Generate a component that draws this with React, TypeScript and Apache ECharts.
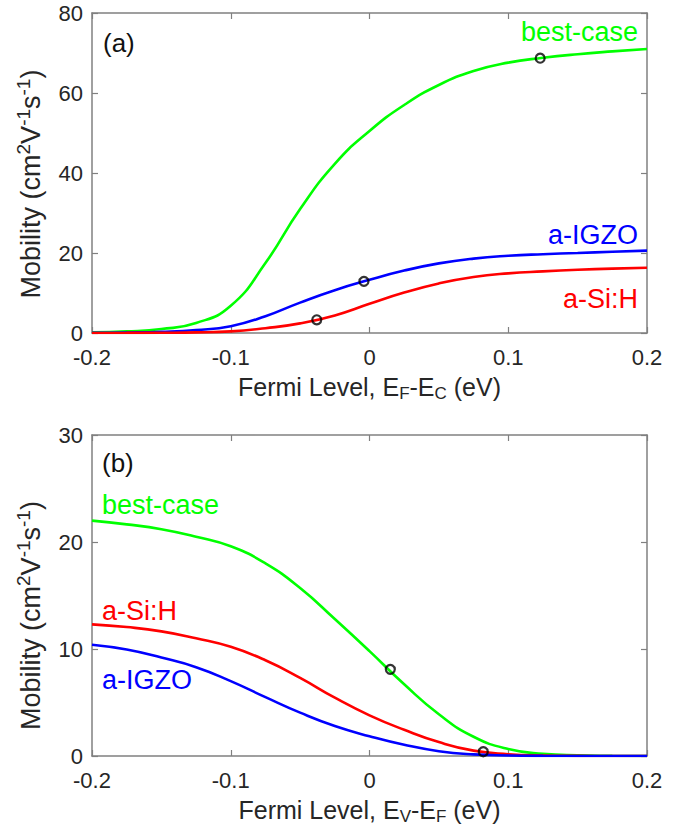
import React, { useEffect, useRef } from "react";
import * as echarts from "echarts";

// Shared Fermi-level sample positions (eV)
const xValues = [-0.2, -0.175, -0.15, -0.125, -0.1, -0.075, -0.05, -0.025, 0, 0.025, 0.05, 0.075, 0.1, 0.125, 0.15, 0.175, 0.2];

// Panel (a): electron mobility vs EF-EC
const aBestCase = [0.15, 0.4, 1.0, 2.5, 6.8, 17.5, 31.0, 42.3, 50.5, 57.0, 62.0, 65.5, 67.6, 68.8, 69.7, 70.4, 71.0];
const aIGZO = [0.05, 0.12, 0.3, 0.75, 1.7, 4.2, 7.6, 10.7, 13.3, 15.6, 17.4, 18.6, 19.3, 19.7, 20.0, 20.3, 20.6];
const aSiH = [0.0, 0.02, 0.06, 0.15, 0.4, 1.2, 2.4, 4.4, 7.3, 10.1, 12.4, 14.0, 14.9, 15.4, 15.8, 16.1, 16.3];
const aMarkers = [[-0.038, 3.3], [-0.004, 12.9], [0.123, 68.7]];

// Panel (b): hole mobility vs EV-EF
const bBestCase = [22.0, 21.65, 21.2, 20.5, 19.6, 18.0, 15.7, 12.8, 9.8, 6.7, 3.9, 1.8, 0.65, 0.2, 0.06, 0.02, 0.0];
const bSiH = [12.3, 12.05, 11.65, 11.0, 10.2, 8.95, 7.3, 5.45, 3.8, 2.45, 1.3, 0.5, 0.17, 0.05, 0.015, 0.0, 0.0];
const bIGZO = [10.4, 9.95, 9.2, 8.3, 7.0, 5.5, 4.05, 2.8, 1.85, 1.05, 0.45, 0.15, 0.05, 0.01, 0.0, 0.0, 0.0];
const bMarkers = [[0.015, 8.1], [0.082, 0.4]];

const seriesNames = ["best-case", "a-IGZO", "a-Si:H"];
const panelLabels = ["(a)", "(b)"];
const xTitles = ["Fermi Level, E{sub|F}-E{sub|C} (eV)", "Fermi Level, E{sub|V}-E{sub|F} (eV)"];
const yTitle = "Mobility (cm{sup|2}V{sup|-1}s{sup|-1})";
const yMax = [80, 30];
const yStep = [20, 10];

const GREEN = "#00ff00";
const BLUE = "#0000ff";
const RED = "#ff0000";
const FONT = '"Liberation Sans", Arial, Helvetica, sans-serif';
const AXIS_COLOR = "#808080";
const TEXT_COLOR = "#262626";

const pairs = (ys: number[]) => xValues.map((x, i) => [x, ys[i]]);

const App: React.FC = () => {
  const ref = useRef<HTMLDivElement>(null);

  useEffect(() => {
    document.body.style.margin = "0";
    if (!ref.current) return;
    const chart = echarts.init(ref.current, undefined, { renderer: "svg" });

    const richX = {
      sub: { fontSize: 17, fontFamily: FONT, color: TEXT_COLOR, verticalAlign: "bottom", lineHeight: 17 },
    };
    const richY = {
      sup: { fontSize: 19, fontFamily: FONT, color: TEXT_COLOR, verticalAlign: "top", lineHeight: 19 },
    };

    const xAxisFor = (gridIndex: number, position: "bottom" | "top") => ({
      type: "value",
      gridIndex,
      position,
      min: -0.2,
      max: 0.2,
      interval: 0.1,
      axisLine: { show: true, onZero: false, lineStyle: { color: AXIS_COLOR, width: 1.5 } },
      axisTick: { show: true, inside: true, length: 6, lineStyle: { color: AXIS_COLOR, width: 1.2 } },
      splitLine: { show: false },
      axisLabel: {
        show: position === "bottom",
        fontSize: 22,
        fontFamily: FONT,
        color: TEXT_COLOR,
        margin: 13,
        formatter: (v: number) => String(parseFloat(v.toFixed(1))),
      },
      name: position === "bottom" ? xTitles[gridIndex] : "",
      nameLocation: "middle",
      nameGap: 39,
      nameTextStyle: { fontSize: 25, fontFamily: FONT, color: TEXT_COLOR, lineHeight: 30, rich: richX },
    });

    const yAxisFor = (gridIndex: number, position: "left" | "right") => ({
      type: "value",
      gridIndex,
      position,
      min: 0,
      max: yMax[gridIndex],
      interval: yStep[gridIndex],
      axisLine: { show: true, onZero: false, lineStyle: { color: AXIS_COLOR, width: 1.5 } },
      axisTick: { show: true, inside: true, length: 6, lineStyle: { color: AXIS_COLOR, width: 1.2 } },
      splitLine: { show: false },
      axisLabel: {
        show: position === "left",
        fontSize: 22,
        fontFamily: FONT,
        color: TEXT_COLOR,
        margin: 9,
      },
      name: position === "left" ? yTitle : "",
      nameLocation: "middle",
      nameGap: 36,
      nameTextStyle: {
        fontSize: 27,
        fontFamily: FONT,
        color: TEXT_COLOR,
        lineHeight: 34,
        padding: [0, gridIndex === 0 ? 22 : 40, 0, 0],
        rich: richY,
      },
    });

    const lineSeries = (name: string, ys: number[], color: string, idx: number) => ({
      type: "line",
      name,
      xAxisIndex: idx * 2,
      yAxisIndex: idx * 2,
      data: pairs(ys),
      smooth: 0.5,
      showSymbol: false,
      lineStyle: { color, width: 2.6 },
      z: 2,
    });

    const markerSeries = (data: number[][], idx: number) => ({
      type: "scatter",
      xAxisIndex: idx * 2,
      yAxisIndex: idx * 2,
      data,
      symbol: "circle",
      symbolSize: 9,
      itemStyle: { color: "rgba(255,255,255,0)", borderColor: "#000", borderWidth: 2.2 },
      z: 5,
    });

    const textEl = (text: string, x: number, y: number, color: string, size: number, align: string) => ({
      type: "text",
      x,
      y,
      style: { text, fill: color, fontSize: size, fontFamily: FONT, align, verticalAlign: "middle" },
    });

    chart.setOption({
      animation: false,
      backgroundColor: "#fff",
      grid: [
        { left: 92, top: 13, width: 555, height: 320, show: false },
        { left: 92, top: 435, width: 555, height: 321, show: false },
      ],
      xAxis: [xAxisFor(0, "bottom"), xAxisFor(0, "top"), xAxisFor(1, "bottom"), xAxisFor(1, "top")],
      yAxis: [yAxisFor(0, "left"), yAxisFor(0, "right"), yAxisFor(1, "left"), yAxisFor(1, "right")],
      series: [
        lineSeries(seriesNames[0], aBestCase, GREEN, 0),
        lineSeries(seriesNames[1], aIGZO, BLUE, 0),
        lineSeries(seriesNames[2], aSiH, RED, 0),
        markerSeries(aMarkers, 0),
        lineSeries(seriesNames[0], bBestCase, GREEN, 1),
        lineSeries(seriesNames[2], bSiH, RED, 1),
        lineSeries(seriesNames[1], bIGZO, BLUE, 1),
        markerSeries(bMarkers, 1),
      ],
      graphic: [
        textEl(panelLabels[0], 103, 43, "#111", 26, "left"),
        textEl(seriesNames[0], 638, 32, GREEN, 27, "right"),
        textEl(seriesNames[1], 638, 235, BLUE, 27, "right"),
        textEl(seriesNames[2], 638, 299, RED, 27, "right"),
        textEl(panelLabels[1], 102, 463, "#111", 26, "left"),
        textEl(seriesNames[0], 102, 505, GREEN, 27, "left"),
        textEl(seriesNames[2], 102, 611, RED, 27, "left"),
        textEl(seriesNames[1], 102, 680, BLUE, 27, "left"),
      ],
    });

    return () => chart.dispose();
  }, []);

  return <div ref={ref} style={{ width: 685, height: 830 }} />;
};

export default App;
